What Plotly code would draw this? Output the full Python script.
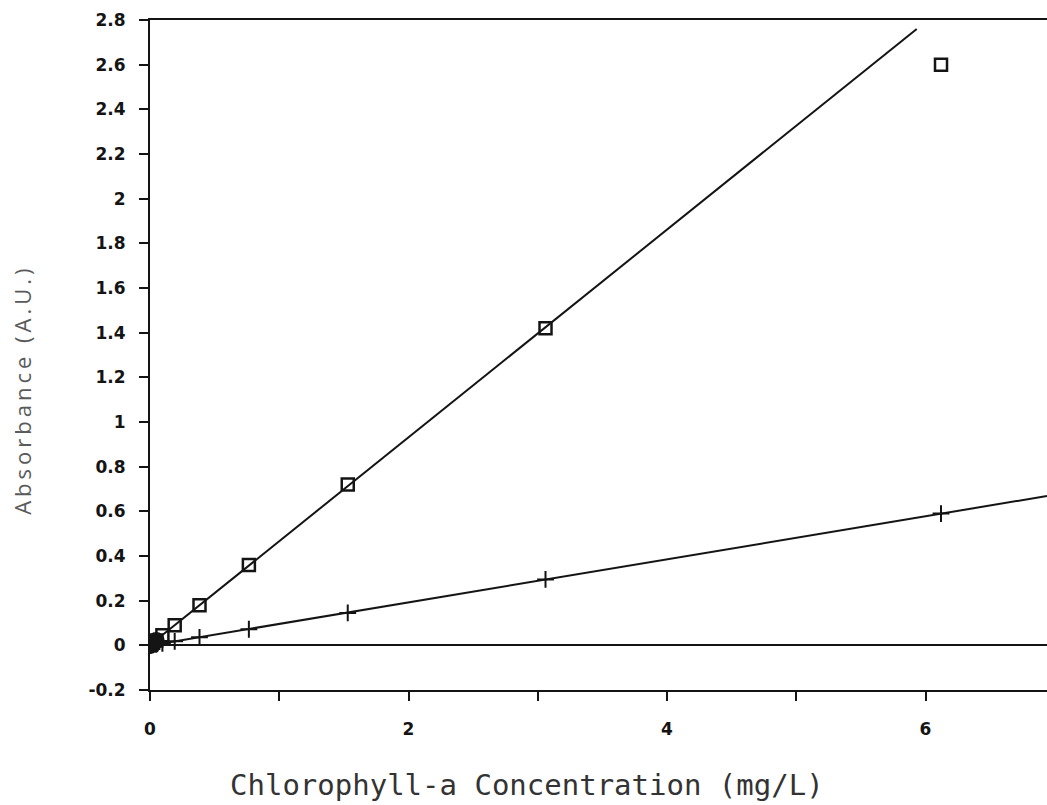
import numpy as np
import plotly.graph_objects as go

# Chlorophyll-a standards (serial dilution, mg/L)
conc = [0.0, 0.006, 0.012, 0.024, 0.048, 0.096, 0.191, 0.383, 0.765, 1.53, 3.06, 6.12]
# Absorbance at the red peak (open squares)
abs_peak = [0.0, 0.003, 0.006, 0.012, 0.022, 0.045, 0.09, 0.18, 0.36, 0.72, 1.42, 2.60]
# Absorbance at the second wavelength (plus markers)
abs_low = [0.0, 0.001, 0.001, 0.002, 0.005, 0.009, 0.018, 0.036, 0.072, 0.145, 0.295, 0.59]

x_ticks = [0, 1, 2, 3, 4, 5, 6]
x_tick_text = ["0", "", "2", "", "4", "", "6"]
y_ticks = [-0.2, 0, 0.2, 0.4, 0.6, 0.8, 1, 1.2, 1.4, 1.6, 1.8, 2, 2.2, 2.4, 2.6, 2.8]
y_tick_text = ["-0.2", "0", "0.2", "0.4", "0.6", "0.8", "1", "1.2", "1.4",
               "1.6", "1.8", "2", "2.2", "2.4", "2.6", "2.8"]

X_MAX = 6.94
INK = "#141414"

# Linear fits (the top standard is saturated, so it is left out of the peak fit)
c = np.array(conc)
p_peak = np.polyfit(c[:-1], np.array(abs_peak)[:-1], 1)
p_low = np.polyfit(c, np.array(abs_low), 1)

peak_stop = 2.76  # peak fit line is drawn up to just below the frame
x_peak_line = np.array([0.0, (peak_stop - p_peak[1]) / p_peak[0]])
x_low_line = np.array([0.0, X_MAX])

fig = go.Figure()

fig.add_trace(go.Scatter(
    x=x_peak_line, y=np.polyval(p_peak, x_peak_line), mode="lines",
    line=dict(color=INK, width=2), showlegend=False, hoverinfo="skip"))
fig.add_trace(go.Scatter(
    x=x_low_line, y=np.polyval(p_low, x_low_line), mode="lines",
    line=dict(color=INK, width=2), showlegend=False, hoverinfo="skip"))

fig.add_trace(go.Scatter(
    x=conc, y=abs_peak, mode="markers", name="peak",
    marker=dict(symbol="square-open", size=12, color=INK, line=dict(width=2.5)),
    showlegend=False))
fig.add_trace(go.Scatter(
    x=conc, y=abs_low, mode="markers", name="low",
    marker=dict(symbol="cross-thin", size=12, color=INK, line=dict(width=2, color=INK)),
    showlegend=False))

# Dense cluster of the most dilute standards near the origin
fig.add_trace(go.Scatter(
    x=conc[:5], y=abs_peak[:5], mode="markers",
    marker=dict(symbol="circle", size=17, color=INK),
    showlegend=False, hoverinfo="skip"))

tick_font = dict(family="DejaVu Sans", size=17, color=INK, weight="bold")

fig.update_layout(
    width=1047, height=805,
    margin=dict(l=150, r=0, t=20, b=115),
    paper_bgcolor="white", plot_bgcolor="white",
    xaxis=dict(
        range=[0, X_MAX], tickvals=x_ticks, ticktext=x_tick_text,
        ticks="outside", ticklen=9, tickwidth=2, tickcolor=INK,
        showline=True, linecolor=INK, linewidth=2, mirror=True,
        showgrid=False, zeroline=False, tickfont=tick_font,
        ticklabelstandoff=14,
    ),
    yaxis=dict(
        range=[-0.2, 2.8], tickvals=y_ticks, ticktext=y_tick_text,
        ticks="outside", ticklen=9, tickwidth=2, tickcolor=INK,
        showline=True, linecolor=INK, linewidth=2,
        showgrid=False, zeroline=True, zerolinecolor=INK, zerolinewidth=2,
        tickfont=tick_font, ticklabelstandoff=10,
    ),
    annotations=[
        dict(text="Chlorophyll-a Concentration (mg/L)", xref="paper", yref="paper",
             x=0.4203, y=-0.1418, xanchor="center", yanchor="middle", showarrow=False,
             font=dict(family="DejaVu Sans Mono", size=29, color="#333333")),
        dict(text="Absorbance (A.U.)", xref="paper", yref="paper",
             x=-0.1427, y=0.448, xanchor="center", yanchor="middle", showarrow=False,
             textangle=-90,
             font=dict(family="Open Sans", size=22, color="#5a5a5a")),
    ],
)

# Wider letter spacing for the vertical axis caption
post = """
document.querySelectorAll('.annotation-text').forEach(function (t) {
  if (t.textContent.indexOf('Absorbance') === 0) { t.style.letterSpacing = '4px'; }
});
"""

fig.write_html("out.html", post_script=post)
